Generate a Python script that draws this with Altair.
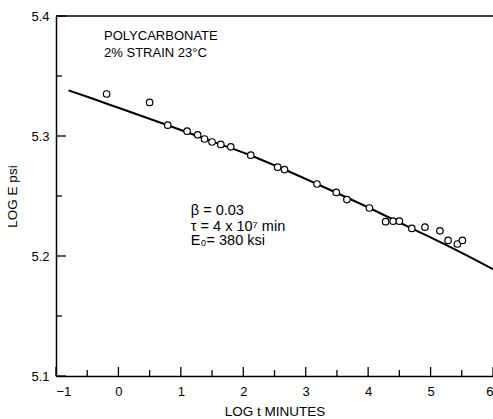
import altair as alt
import pandas as pd

# Measured points (log t in minutes, log E in psi)
log_t = [-0.19, 0.50, 0.79, 1.10, 1.27, 1.38, 1.50, 1.64, 1.80, 2.12, 2.55, 2.66,
         3.18, 3.49, 3.66, 4.02, 4.28, 4.40, 4.50, 4.70, 4.91, 5.15, 5.28, 5.43, 5.51]
log_e = [5.335, 5.328, 5.309, 5.304, 5.301, 5.2975, 5.295, 5.293, 5.291, 5.284, 5.274, 5.272,
         5.260, 5.253, 5.247, 5.240, 5.2286, 5.229, 5.229, 5.223, 5.224, 5.221, 5.213, 5.210, 5.213]

# Fitted curve
fit_t = [-0.8, -0.43, 0.0, 0.79, 1.5, 2.11, 2.5, 3.18, 4.02, 4.70, 5.5, 6.0]
fit_e = [5.338, 5.3314, 5.3235, 5.309, 5.2955, 5.284, 5.2756, 5.260, 5.240, 5.223, 5.2026, 5.189]

# Axis ticks
x_major = [-1, 0, 1, 2, 3, 4, 5, 6]
x_minor = [-0.5, 0.5, 1.5, 2.5, 3.5, 4.5, 5.5]
y_major = [5.1, 5.2, 5.3, 5.4]
y_minor = [5.15, 5.25, 5.35]

# Annotation texts
title_text = ["POLYCARBONATE", "2% STRAIN  23°C"]
title_x = [-0.23, -0.23]
title_y = [5.3836, 5.369]
param_text = ["β = 0.03", "τ  = 4 x 10⁷ min", "E₀= 380 ksi"]
param_x = [1.16, 1.16, 1.16]
param_y = [5.2375, 5.2245, 5.2125]

W, H = 437, 360
FONT = "Liberation Sans"

xs = alt.Scale(domain=[-1, 6], nice=False, zero=False)
ys = alt.Scale(domain=[5.1, 5.4], nice=False, zero=False)

pts = pd.DataFrame({"t": log_t, "e": log_e})
fit = pd.DataFrame({"t": fit_t, "e": fit_e})
ann1 = pd.DataFrame({"text": title_text, "t": title_x, "e": title_y})
ann2 = pd.DataFrame({"text": param_text, "t": param_x, "e": param_y})

base_axes = alt.Chart(pd.DataFrame({"t": [0], "e": [5.2]})).mark_point(opacity=0).encode(
    x=alt.X("t:Q", scale=xs, axis=alt.Axis(
        values=x_major, format="d", title="LOG t MINUTES", grid=False, ticks=False, tickSize=0,
        labelPadding=9, labelFontSize=13, labelFont=FONT, labelColor="black",
        titleFont=FONT, titleFontSize=13.5, titleFontWeight="normal", titleColor="black",
        titlePadding=6, domainColor="black", domainWidth=1.5)),
    y=alt.Y("e:Q", scale=ys, axis=alt.Axis(
        values=y_major, format=".1f", title="LOG E psi", grid=False, ticks=False, tickSize=0,
        labelPadding=7, labelFontSize=13, labelFont=FONT, labelColor="black",
        titleFont=FONT, titleFontSize=13.5, titleFontWeight="normal", titleColor="black",
        titlePadding=11, domainColor="black", domainWidth=1.5)),
)

top_line = alt.Chart(pd.DataFrame({"a": [0]})).mark_rule(color="black", strokeWidth=1.5).encode(
    x=alt.value(0), x2=alt.value(W), y=alt.value(0))

xmaj = alt.Chart(pd.DataFrame({"t": x_major})).mark_rule(color="black", strokeWidth=1.3).encode(
    x=alt.X("t:Q", scale=xs), y=alt.value(H), y2=alt.value(H - 9))
xmin = alt.Chart(pd.DataFrame({"t": x_minor})).mark_rule(color="black", strokeWidth=1.3).encode(
    x=alt.X("t:Q", scale=xs), y=alt.value(H), y2=alt.value(H - 6))
ymaj = alt.Chart(pd.DataFrame({"e": y_major})).mark_rule(color="black", strokeWidth=1.3).encode(
    y=alt.Y("e:Q", scale=ys), x=alt.value(0), x2=alt.value(10))
ymin = alt.Chart(pd.DataFrame({"e": y_minor})).mark_rule(color="black", strokeWidth=1.3).encode(
    y=alt.Y("e:Q", scale=ys), x=alt.value(0), x2=alt.value(6))

fit_line = alt.Chart(fit).mark_line(color="black", strokeWidth=2, interpolate="monotone").encode(
    x=alt.X("t:Q", scale=xs), y=alt.Y("e:Q", scale=ys))

points = alt.Chart(pts).mark_point(shape="circle", filled=True, fill="white", stroke="black",
                                   strokeWidth=1.2, size=42, opacity=1).encode(
    x=alt.X("t:Q", scale=xs), y=alt.Y("e:Q", scale=ys))

texts1 = alt.Chart(ann1).mark_text(align="left", baseline="middle", font=FONT, fontSize=13,
                                   color="black").encode(
    x=alt.X("t:Q", scale=xs), y=alt.Y("e:Q", scale=ys), text="text:N")
texts2 = alt.Chart(ann2).mark_text(align="left", baseline="middle", font=FONT, fontSize=14.5,
                                   color="black").encode(
    x=alt.X("t:Q", scale=xs), y=alt.Y("e:Q", scale=ys), text="text:N")

chart = alt.layer(base_axes, top_line, xmaj, xmin, ymaj, ymin, fit_line, points,
                  texts1, texts2).properties(
    width=W, height=H,
    autosize=alt.AutoSizeParams(type="none"),
    padding={"left": 56, "top": 16, "right": 0, "bottom": 43},
    background="white",
).configure_view(stroke=None)

chart.save("out.html", embed_options={"renderer": "svg", "actions": False})
